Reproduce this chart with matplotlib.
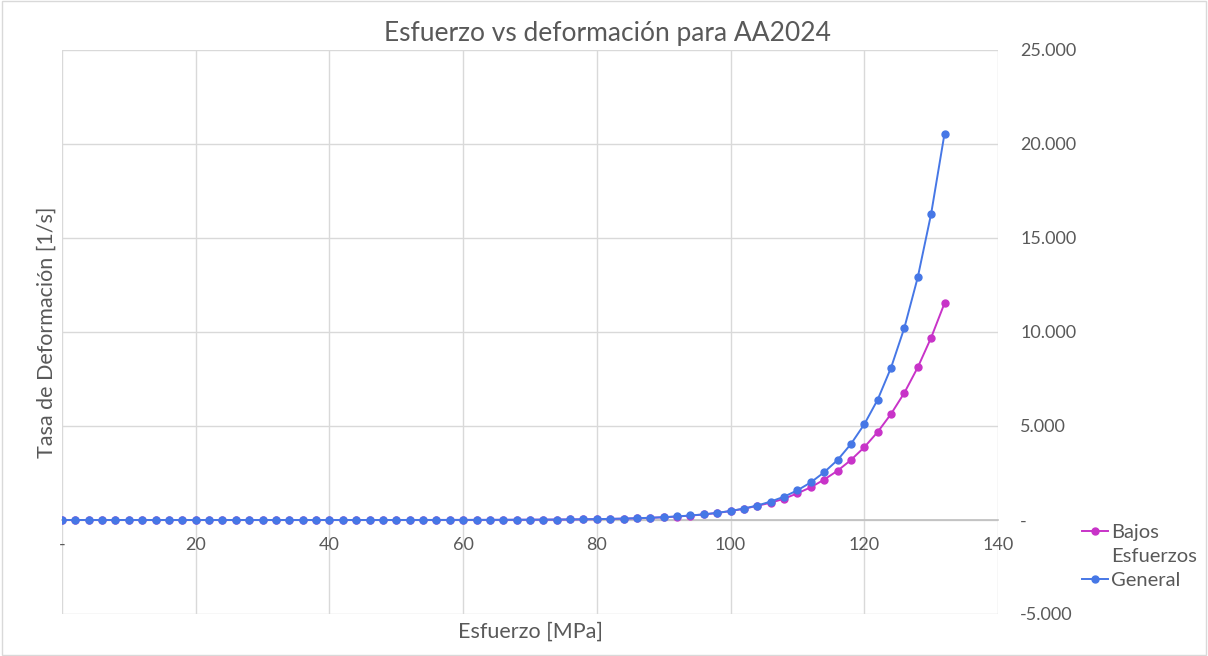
import numpy as np
import matplotlib
matplotlib.use("Agg")
import matplotlib.pyplot as plt
from matplotlib.ticker import FuncFormatter
from matplotlib.patches import Rectangle
from matplotlib.lines import Line2D

plt.rcParams['font.family'] = ['Lato', 'DejaVu Sans']

#################################################################
# data
#################################################################

esfuerzo = list(range(0, 134, 2))  # MPa

# General
general = [0, 0, 0, 0, 0, 0, 0, 0, 0, 0,
           0, 0, 0, 0, 0, 0, 0, 0, 0, 0,
           0, 0, 0.5, 0.5, 1, 1.5, 2, 2, 3, 4,
           5, 6, 7, 9, 12, 15, 19, 23, 30, 37,
           47, 60, 75, 95, 120, 150, 190, 240, 300, 380,
           480, 610, 770, 980, 1240, 1580, 2000, 2540, 3190, 4040,
           5090, 6400, 8100, 10230, 12910, 16290, 20550]

# Bajos Esfuerzos
bajos = [0, 0, 0, 0, 0, 0, 0, 0, 0, 0,
         0, 0, 0, 0, 0, 0, 0, 0, 0, 0,
         0, 0, 0.5, 0.5, 1, 1.5, 2, 2, 3, 4,
         5, 6, 7, 9, 12, 15, 18, 22, 28, 35,
         45, 57, 72, 90, 115, 145, 185, 235, 295, 375,
         475, 600, 755, 920, 1130, 1420, 1740, 2150, 2620, 3190,
         3870, 4680, 5640, 6770, 8120, 9700, 11530]

y_ticks = [-5000, 0, 5000, 10000, 15000, 20000, 25000]
x_ticks = [0, 20, 40, 60, 80, 100, 120, 140]

c_bajos = '#C833C8'
c_general = '#4677E6'
grid_c = '#D9D9D9'
txt_c = '#595959'

#################################################################
# plot
#################################################################

fig = plt.figure(figsize=(12.08, 6.56), dpi=100)
ax = fig.add_axes([62/1208, 1-614/656, (998-62)/1208, (614-50)/656])

ax.plot(esfuerzo, bajos, '-o', color=c_bajos, lw=1.4, ms=5, zorder=3)
ax.plot(esfuerzo, general, '-o', color=c_general, lw=1.4, ms=5, zorder=4)

ax.set_xlim(0, 140)
ax.set_ylim(-5000, 25000)
ax.set_xticks(x_ticks)
ax.set_yticks(y_ticks)

def fmt_y(v, pos):
    if v == 0:
        return '-'
    return '{:,.0f}'.format(v).replace(',', '.')

def fmt_x(v, pos):
    if v == 0:
        return '-'
    return '{:.0f}'.format(v)

ax.yaxis.set_major_formatter(FuncFormatter(fmt_y))
ax.xaxis.set_major_formatter(FuncFormatter(fmt_x))

ax.yaxis.tick_right()
ax.tick_params(axis='y', length=0, pad=16, labelsize=13, labelcolor=txt_c)
for lbl in ax.get_yticklabels():
    lbl.set_horizontalalignment('left')
ax.tick_params(axis='x', length=0, pad=12, labelsize=13, labelcolor=txt_c)

ax.grid(True, color=grid_c, lw=1, zorder=0)
ax.set_axisbelow(True)
for s in ['top', 'right', 'left']:
    ax.spines[s].set_visible(False)
ax.spines['bottom'].set_position(('data', 0))
ax.spines['bottom'].set_color('#BFBFBF')
ax.spines['bottom'].set_linewidth(1.2)

fig.text(607/1208, 1-33/656, 'Esfuerzo vs deformación para AA2024', ha='center', va='center',
         fontsize=19, color=txt_c)
fig.text(530/1208, 1-632/656, 'Esfuerzo [MPa]', ha='center', va='center', fontsize=15.5, color=txt_c)
fig.text(47/1208, 1-332/656, 'Tasa de Deformación [1/s]', ha='center', va='center', rotation=90,
         fontsize=15.5, color=txt_c)

# legend: wrapped label, handle next to first line only
handles = [Line2D([], [], color=c_bajos, marker='o', ms=5, lw=1.4),
           Line2D([], [], color='none'),
           Line2D([], [], color=c_general, marker='o', ms=5, lw=1.4)]
labels = ['Bajos', 'Esfuerzos', 'General']
fig.legend(handles, labels, loc='upper left', bbox_to_anchor=(1074/1208, 1-516/656), frameon=False,
           fontsize=14.5, labelcolor=txt_c, handlelength=1.3, handletextpad=0.15,
           borderaxespad=0, labelspacing=0.35)

fig.patches.append(Rectangle((0.002, 0.002), 0.996, 0.996, transform=fig.transFigure,
                             fill=False, edgecolor='#D9D9D9', lw=1))

fig.savefig('out.png', dpi=100)
